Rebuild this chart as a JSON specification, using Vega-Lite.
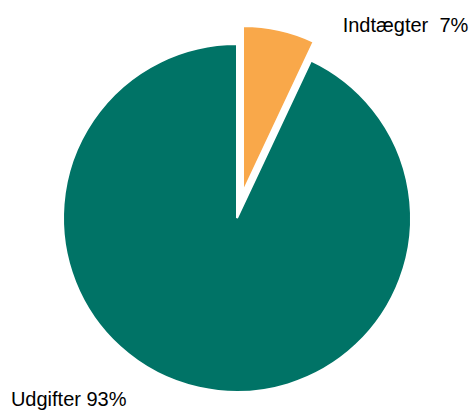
{
  "$schema": "https://vega.github.io/schema/vega-lite/v6.json",
  "width": 470,
  "height": 384,
  "padding": {"top": 26, "left": 2, "right": 0, "bottom": 0},
  "autosize": {"type": "none"},
  "background": "white",
  "view": {"stroke": null},
  "data": {
    "values": [
      {"category": "Indtægter", "value": 7, "label": "Indtægter\u00a0\u00a07%"},
      {"category": "Udgifter", "value": 93, "label": "Udgifter 93%"}
    ]
  },
  "transform": [
    {"stack": "value", "groupby": [], "sort": [{"field": "category", "order": "ascending"}], "as": ["v0", "v1"]},
    {"calculate": "(datum.v0 + datum.v1) / 2", "as": "mid"}
  ],
  "layer": [
    {
      "transform": [{"filter": "datum.category === 'Udgifter'"}],
      "mark": {"type": "arc", "outerRadius": 174, "color": "#007366", "stroke": "white", "strokeWidth": 2},
      "encoding": {
        "theta": {"field": "v0", "type": "quantitative", "scale": {"domain": [0, 100]}},
        "theta2": {"field": "v1"}
      }
    },
    {
      "transform": [{"filter": "datum.category === 'Indtægter'"}],
      "mark": {"type": "arc", "outerRadius": 166, "color": "#F9A84A", "stroke": "white", "strokeWidth": 2, "xOffset": 6, "yOffset": -26},
      "encoding": {
        "theta": {"field": "v0", "type": "quantitative", "scale": {"domain": [0, 100]}},
        "theta2": {"field": "v1"}
      }
    },
    {
      "transform": [{"filter": "datum.category === 'Indtægter'"}],
      "mark": {"type": "text", "radius": 191, "align": "left", "baseline": "alphabetic", "font": "Liberation Sans", "fontSize": 20, "color": "#000000", "dx": 64, "dy": 0},
      "encoding": {
        "theta": {"field": "mid", "type": "quantitative", "scale": {"domain": [0, 100]}},
        "text": {"field": "label"}
      }
    },
    {
      "transform": [{"filter": "datum.category === 'Udgifter'"}],
      "mark": {"type": "text", "radius": 193, "align": "left", "baseline": "alphabetic", "font": "Liberation Sans", "fontSize": 20, "color": "#000000", "dx": -184, "dy": 0},
      "encoding": {
        "theta": {"field": "mid", "type": "quantitative", "scale": {"domain": [0, 100]}},
        "text": {"field": "label"}
      }
    }
  ]
}
